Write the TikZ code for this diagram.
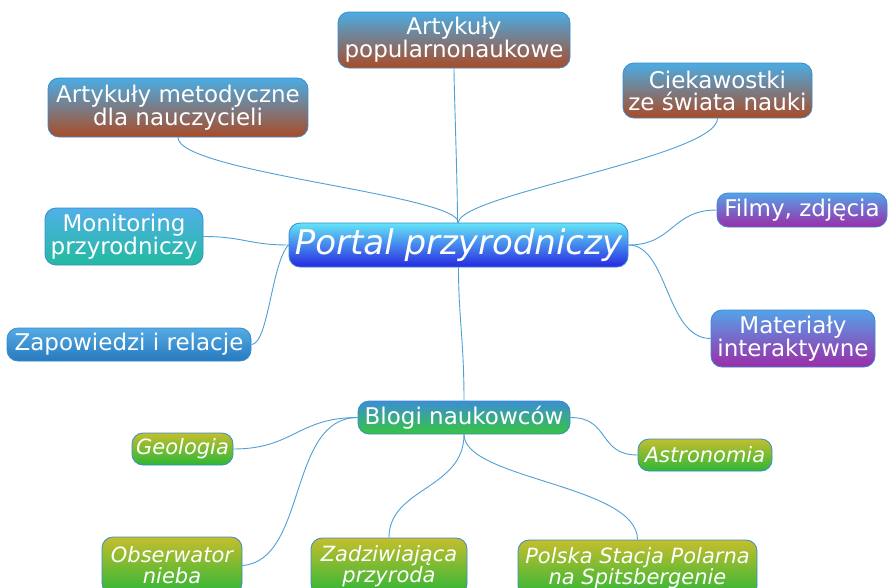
\documentclass[tikz,border=0pt]{standalone}
\usepackage{fontspec}
\setmainfont{DejaVu Sans}
\definecolor{bordercol}{RGB}{55,140,205}
\definecolor{linkcol}{RGB}{80,160,215}
\definecolor{cenTop}{RGB}{100,228,248}
\definecolor{cenBot}{RGB}{38,40,225}
\definecolor{brTop}{RGB}{75,172,228}
\definecolor{brBot}{RGB}{170,75,38}
\definecolor{puTop}{RGB}{85,162,232}
\definecolor{puBot}{RGB}{155,45,168}
\definecolor{teTop}{RGB}{80,176,232}
\definecolor{teBot}{RGB}{35,186,160}
\definecolor{blTop}{RGB}{85,170,228}
\definecolor{blBot}{RGB}{38,122,190}
\definecolor{bgTop}{RGB}{60,142,212}
\definecolor{bgBot}{RGB}{55,196,65}
\definecolor{grTop}{RGB}{196,190,45}
\definecolor{grBot}{RGB}{45,182,55}
\tikzset{
  box/.style={rounded corners=11pt, draw=bordercol, line width=0.8pt, text=white, inner sep=0pt, align=center},
  bigfont/.style={font=\fontsize{23}{22}\selectfont},
  itfont/.style={font=\fontsize{21}{21}\selectfont\itshape},
  link/.style={draw=linkcol, line width=0.9pt},
  cenfill/.style={top color=cenTop, bottom color=cenBot},
  brfill/.style={top color=brTop, bottom color=brBot},
  pufill/.style={top color=puTop, bottom color=puBot},
  tefill/.style={top color=teTop, bottom color=teBot},
  blfill/.style={top color=blTop, bottom color=blBot},
  bgfill/.style={top color=bgTop, bottom color=bgBot},
  grfill/.style={top color=grTop, bottom color=grBot},
}
\begin{document}
\begin{tikzpicture}[x=1pt,y=-1pt]
\useasboundingbox (0,0) rectangle (889,587);
\clip (0,0) rectangle (889,587);
\fill[white] (0,0) rectangle (889,587);

% nodes
\node[box, cenfill, minimum width=339pt, minimum height=44pt, font=\fontsize{34}{34}\selectfont\itshape] (portal) at (458.5,245) {Portal przyrodniczy};
\node[box, brfill, bigfont, minimum width=232pt, minimum height=56pt] (popul) at (454,40) {Artykuły\\popularnonaukowe};
\node[box, brfill, bigfont, minimum width=260pt, minimum height=59pt] (metod) at (178,107.5) {Artykuły metodyczne\\dla nauczycieli};
\node[box, brfill, bigfont, minimum width=189pt, minimum height=55pt] (ciek) at (717.5,90.5) {Ciekawostki\\ze świata nauki};
\node[box, pufill, bigfont, minimum width=170pt, minimum height=34pt] (filmy) at (802,210) {Filmy, zdjęcia};
\node[box, pufill, bigfont, minimum width=164pt, minimum height=57pt] (mater) at (793,338.5) {Materiały\\interaktywne};
\node[box, tefill, bigfont, minimum width=158pt, minimum height=57pt] (monit) at (124,236.5) {Monitoring\\przyrodniczy};
\node[box, blfill, bigfont, minimum width=244pt, minimum height=33pt] (zapow) at (129,344.5) {Zapowiedzi i relacje};
\node[box, bgfill, bigfont, minimum width=212pt, minimum height=33pt] (blogi) at (464,417.5) {Blogi naukowców};
\node[box, grfill, itfont, minimum width=101pt, minimum height=32pt] (geol) at (182.5,449) {Geologia};
\node[box, grfill, itfont, minimum width=134pt, minimum height=32pt] (astro) at (705,455) {Astronomia};
\node[box, grfill, itfont, minimum width=140pt, minimum height=57pt] (obser) at (172,565.5) {Obserwator\\nieba};
\node[box, grfill, itfont, minimum width=156pt, minimum height=57pt] (zadz) at (389,566.5) {Zadziwiająca\\przyroda};
\node[box, grfill, itfont, minimum width=239pt, minimum height=57pt] (polska) at (637.5,568.5) {Polska Stacja Polarna\\na Spitsbergenie};

% connectors from portal
\draw[link] ([xshift=-1pt]portal.north) .. controls ([xshift=-1pt,yshift=40pt]portal.north) and ([yshift=-20pt]popul.south) .. (popul.south);
\draw[link] (portal.north) .. controls ([yshift=28pt]portal.north) and ([yshift=-35pt]metod.south) .. (metod.south);
\draw[link] (portal.north) .. controls ([yshift=28pt]portal.north) and ([yshift=-38pt]ciek.south) .. (ciek.south);
\draw[link] (portal.east) .. controls ([xshift=45pt]portal.east) and ([xshift=-45pt]filmy.west) .. (filmy.west);
\draw[link] (portal.east) .. controls ([xshift=40pt]portal.east) and ([xshift=-45pt]mater.west) .. (mater.west);
\draw[link] (portal.west) .. controls ([xshift=-40pt]portal.west) and ([xshift=40pt]monit.east) .. (monit.east);
\draw[link] (portal.west) .. controls ([xshift=-17pt,yshift=-17pt]portal.west) and ([xshift=17pt]zapow.east) .. (zapow.east);
\draw[link] (portal.south) .. controls ([yshift=-50pt]portal.south) and ([yshift=60pt]blogi.north) .. (blogi.north);

% connectors from blogi
\draw[link] (blogi.west) .. controls ([xshift=-60pt]blogi.west) and ([xshift=60pt]geol.east) .. (geol.east);
\draw[link] (blogi.west) .. controls ([xshift=-70pt]blogi.west) and ([xshift=65pt,yshift=5pt]obser.east) .. (obser.east);
\draw[link] (blogi.east) .. controls ([xshift=40pt]blogi.east) and ([xshift=-40pt]astro.west) .. (astro.west);
\draw[link] (blogi.south) .. controls ([yshift=-55pt]blogi.south) and ([yshift=50pt]zadz.north) .. (zadz.north);
\draw[link] (blogi.south) .. controls ([yshift=-45pt]blogi.south) and ([yshift=55pt]polska.north) .. (polska.north);
\end{tikzpicture}
\end{document}
